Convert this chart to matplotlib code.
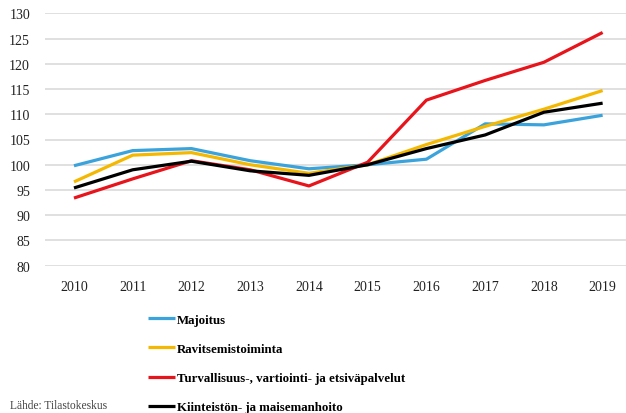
import matplotlib
matplotlib.use("Agg")
import matplotlib.pyplot as plt

years = [2010, 2011, 2012, 2013, 2014, 2015, 2016, 2017, 2018, 2019]
majoitus = [99.8, 102.8, 103.2, 100.8, 99.2, 100.0, 101.1, 108.1, 107.9, 109.8]
ravitsemis = [96.6, 101.9, 102.4, 100.0, 98.3, 100.0, 104.0, 107.6, 111.0, 114.7]
turvallisuus = [93.4, 97.2, 100.8, 99.0, 95.8, 100.5, 112.8, 116.7, 120.3, 126.2]
kiinteisto = [95.4, 99.0, 100.7, 98.8, 97.9, 100.0, 103.2, 105.9, 110.4, 112.2]
labels = ["Majoitus", "Ravitsemistoiminta",
          "Turvallisuus-, vartiointi- ja etsiväpalvelut",
          "Kiinteistön- ja maisemanhoito"]
colors = ["#3BA3DC", "#F4B800", "#E8141C", "#000000"]
yticks = list(range(80, 131, 5))
source = "Lähde: Tilastokeskus"

plt.rcParams['font.family'] = ['Liberation Serif', 'DejaVu Serif']

fig = plt.figure(figsize=(6.26, 4.14), dpi=100)
W, H = 626, 414
left, right, top, bottom = 44.6, 632.0, 14.3, 266.7
ax = fig.add_axes([left / W, 1 - bottom / H, (right - left) / W, (bottom - top) / H])

series = [majoitus, ravitsemis, turvallisuus, kiinteisto]
handles = []
for s, c, lab in zip(series, colors, labels):
    h, = ax.plot(years, s, color=c, lw=2.3, label=lab, solid_capstyle='butt', zorder=3)
    handles.append(h)

ax.set_xlim(2009.5, 2019.5)
ax.set_ylim(80, 130)
ax.set_yticks(yticks)
ax.set_xticks(years)
ax.set_xticklabels([str(y) for y in years])
ax.grid(axis='y', color='#DADADA', lw=1.2)
ax.set_axisbelow(True)
for sp in ax.spines.values():
    sp.set_visible(False)
ax.tick_params(length=0, labelsize=10, colors='#222222')
ax.tick_params(axis='y', pad=10.5)
ax.tick_params(axis='x', pad=10)

fig.legend(handles=handles, labels=labels, loc='upper left',
           bbox_to_anchor=(136 / W, 1 - 303 / H), frameon=False,
           handlelength=2.1, handletextpad=0.15, labelspacing=1.33,
           prop={'weight': 'bold', 'size': 9.3})

fig.text(10 / W, 1 - 406 / H, source, fontsize=8.3, color='#444444', va='center', ha='left')

fig.savefig("out.png", dpi=100)
